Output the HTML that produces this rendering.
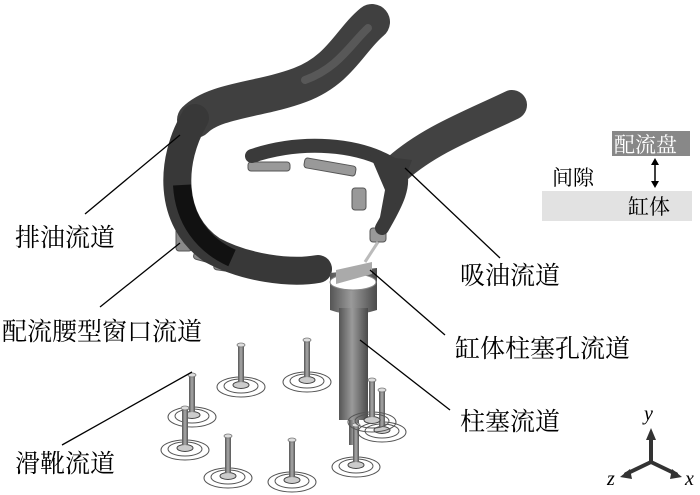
<!DOCTYPE html>
<html><head><meta charset="utf-8"><style>
html,body{margin:0;padding:0;background:#fff;}
svg{display:block}
text{font-family:"Liberation Serif","Noto Serif CJK SC",serif;}
</style></head><body>
<svg width="700" height="495" viewBox="0 0 700 495" xmlns="http://www.w3.org/2000/svg">
<defs>
<linearGradient id="cyl" x1="0" x2="1" y1="0" y2="0">
<stop offset="0" stop-color="#555"/><stop offset="0.45" stop-color="#9a9a9a"/><stop offset="1" stop-color="#4a4a4a"/>
</linearGradient>
<linearGradient id="rod" x1="0" x2="1"><stop offset="0" stop-color="#555"/><stop offset="0.5" stop-color="#aaa"/><stop offset="1" stop-color="#555"/></linearGradient>
<g id="slip">
<ellipse cx="0" cy="42" rx="24" ry="10" fill="none" stroke="#555" stroke-width="1"/>
<ellipse cx="0" cy="41" rx="17" ry="7" fill="none" stroke="#555" stroke-width="1"/>
<ellipse cx="0" cy="40" rx="8" ry="3.5" fill="#ccc" stroke="#444" stroke-width="1"/>
<rect x="-3" y="0" width="6" height="37" fill="url(#rod)"/>
<ellipse cx="0" cy="0" rx="4" ry="2" fill="#ddd" stroke="#777" stroke-width="0.8"/>
</g>
</defs>

<!-- kidney windows under discharge -->
<g fill="#8a8a8a" stroke="#555" stroke-width="1">
<rect x="176" y="225" width="16" height="26" rx="3"/>
<rect x="194" y="250" width="26" height="12" rx="3" transform="rotate(15 207 256)"/>
<rect x="214" y="260" width="40" height="12" rx="3" transform="rotate(8 233 266)"/>
<rect x="278" y="268" width="42" height="12" rx="3"/>
</g>
<!-- windows under suction arc -->
<g fill="#999" stroke="#555" stroke-width="1">
<rect x="248" y="162" width="42" height="9" rx="3"/>
<rect x="304" y="162" width="52" height="10" rx="3" transform="rotate(10 330 167)"/>
<rect x="352" y="188" width="14" height="22" rx="3"/>
<rect x="370" y="228" width="16" height="14" rx="3"/>
</g>

<!-- discharge channel -->
<path d="M372,22 C350,40 340,70 300,85 C260,100 215,100 195,120" fill="none" stroke="#404040" stroke-width="36" stroke-linecap="round"/>
<path d="M368,28 C350,45 338,68 305,80" fill="none" stroke="#707070" stroke-width="8" stroke-linecap="round" opacity="0.5"/>
<path d="M195,118 C170,160 168,220 212,250 C245,268 290,274 318,269" fill="none" stroke="#383838" stroke-width="28" stroke-linecap="round"/>
<path d="M182,185 C184,220 203,245 232,258" fill="none" stroke="#111" stroke-width="18"/>

<!-- suction channel -->
<path d="M512,105 C470,125 430,140 398,168" fill="none" stroke="#424242" stroke-width="30" stroke-linecap="round"/>
<path d="M252,156 C300,140 360,142 398,168 C408,185 392,210 382,228" fill="none" stroke="#3a3a3a" stroke-width="14" stroke-linecap="round"/>
<path d="M370,155 L412,160 L395,205 L384,228 L378,228 L385,190 Z" fill="#3a3a3a"/>
<line x1="378" y1="242" x2="365" y2="262" stroke="#bbb" stroke-width="3"/>

<!-- piston bore / piston -->
<path d="M330,273 L377,268 L377,310 Q352,318 330,310 Z" fill="url(#cyl)"/>
<ellipse cx="353" cy="282" rx="23" ry="8" fill="#fff" stroke="#888"/>
<path d="M336,270 L372,262 L372,274 L336,284 Z" fill="#aaa"/>
<rect x="339" y="308" width="29" height="112" fill="url(#cyl)"/>
<rect x="349" y="420" width="10" height="25" fill="url(#rod)"/>

<!-- slippers -->
<use href="#slip" x="241" y="345"/>
<use href="#slip" x="307" y="340"/>
<use href="#slip" x="192" y="375"/>
<use href="#slip" x="185" y="408"/>
<use href="#slip" x="228" y="436"/>
<use href="#slip" x="292" y="440"/>
<use href="#slip" x="356" y="425"/>
<use href="#slip" x="382" y="390"/>
<use href="#slip" x="372" y="380"/>

<!-- leader lines -->
<g stroke="#000" stroke-width="1.3">
<line x1="85" y1="214" x2="180" y2="135"/>
<line x1="100" y1="307" x2="180" y2="243"/>
<line x1="62" y1="445" x2="192" y2="372"/>
<line x1="500" y1="258" x2="405" y2="168"/>
<line x1="445" y1="335" x2="370" y2="270"/>
<line x1="450" y1="410" x2="360" y2="340"/>
</g>

<!-- labels -->
<g font-size="25" fill="#000">
<text x="15" y="246">排油流道</text>
<text x="2" y="340">配流腰型窗口流道</text>
<text x="15" y="472">滑靴流道</text>
<text x="460" y="284">吸油流道</text>
<text x="455" y="357">缸体柱塞孔流道</text>
<text x="460" y="430">柱塞流道</text>
</g>

<!-- legend -->
<rect x="612" y="131" width="78" height="25" fill="#888"/>
<text x="614" y="152" font-size="21" fill="#fff">配流盘</text>
<rect x="542" y="191" width="150" height="30" fill="#e2e2e2"/>
<text x="628" y="214" font-size="21" fill="#000">缸体</text>
<text x="552" y="185" font-size="21" fill="#000">间隙</text>
<line x1="655" y1="162" x2="655" y2="184" stroke="#000" stroke-width="1.5"/>
<path d="M651,165 L655,158 L659,165 Z M651,181 L655,188 L659,181 Z" fill="#000"/>

<!-- axes -->
<g stroke="#333" stroke-width="4" stroke-linecap="round">
<line x1="651" y1="462" x2="651" y2="437"/>
<line x1="651" y1="462" x2="626" y2="474"/>
<line x1="651" y1="462" x2="676" y2="474"/>
</g>
<path d="M646,440 L651,428 L656,440 Z M630,469 L620,477 L632,479 Z M672,469 L682,477 L670,479 Z" fill="#333"/>
<g font-size="20" font-style="italic" fill="#000">
<text x="644" y="420">y</text>
<text x="607" y="485">z</text>
<text x="685" y="485">x</text>
</g>
</svg>
</body></html>
